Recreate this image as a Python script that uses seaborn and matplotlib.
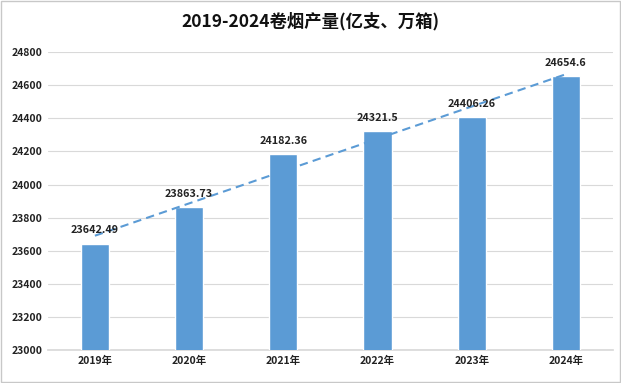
import numpy as np
import pandas as pd
import matplotlib
matplotlib.use("Agg")
import matplotlib.pyplot as plt
import seaborn as sns

years = ["2019年", "2020年", "2021年", "2022年", "2023年", "2024年"]
output = [23642.49, 23863.73, 24182.36, 24321.5, 24406.26, 24654.6]
labels = ["23642.49", "23863.73", "24182.36", "24321.5", "24406.26", "24654.6"]
yticks = [23000, 23200, 23400, 23600, 23800, 24000, 24200, 24400, 24600, 24800]
title = "2019-2024卷烟产量(亿支、万箱)"

sns.set_theme(style="white")
plt.rcParams['font.family'] = ['Noto Sans CJK SC', 'DejaVu Sans']

df = pd.DataFrame({"year": years, "value": output})
fig = plt.figure(figsize=(6.21, 3.83), dpi=100)
ax = fig.add_axes([0.077, 0.086, 0.91, 0.778])
bar_color = "#5B9BD5"
sns.barplot(data=df, x="year", y="value", color=bar_color, width=0.3,
            saturation=1, ax=ax, zorder=3)
sns.regplot(x=np.arange(len(output)), y=np.array(output), scatter=False, ci=None,
            truncate=True, ax=ax,
            line_kws=dict(color="#5B9BD5", ls=(0, (4, 2.5)), lw=1.5, zorder=4))

for i, (v, t) in enumerate(zip(output, labels)):
    ax.annotate(t, (i, v), xytext=(0, 6), textcoords="offset points",
                ha="center", va="bottom", fontsize=7.8, fontweight="bold",
                color="#222222", zorder=5)

ax.set_ylim(23000, 24800)
ax.set_xlim(-0.5, 5.5)
ax.set_yticks(yticks)
ax.set_yticklabels([str(t) for t in yticks], fontsize=7.5, fontweight="bold", color="#222222")
ax.set_xticks(range(len(years)))
ax.set_xticklabels(years, fontsize=7.5, fontweight="bold", color="#222222")
ax.grid(axis="y", color="#D9D9D9", lw=0.8, zorder=0)
for s in ["top", "right", "left"]:
    ax.spines[s].set_visible(False)
ax.spines["bottom"].set_color("#D9D9D9")
ax.tick_params(axis="both", length=0, pad=4)
ax.set_xlabel("")
ax.set_ylabel("")
fig.text(0.5, 0.945, title, ha="center", va="center", fontsize=12.5, fontweight="bold", color="#111111")
fig.patches.append(plt.Rectangle((0.002, 0.002), 0.996, 0.996, transform=fig.transFigure,
                                 fill=False, edgecolor="#C8C8C8", lw=1))
fig.savefig("out.png", dpi=100)
